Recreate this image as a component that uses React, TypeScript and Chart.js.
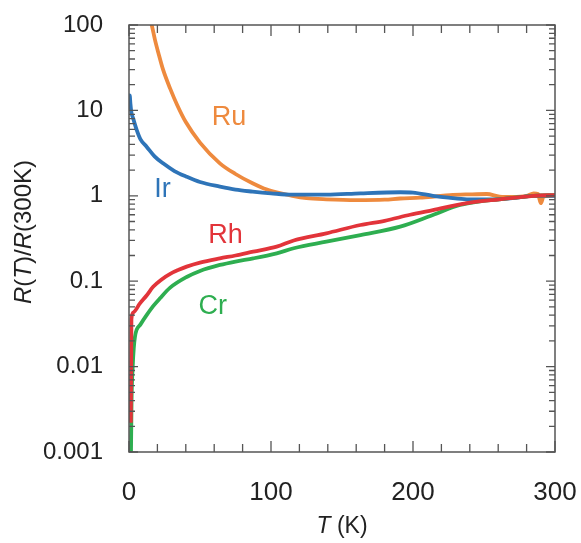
import { useEffect, useRef } from "react";
import { Chart, registerables } from "chart.js";

Chart.register(...registerables);

// Temperature (K) and normalized resistance R(T)/R(300K) for each metal
const ruT = [15, 16, 18.3, 20.7, 24, 29, 34, 40, 50, 64, 75, 87, 95, 104, 115, 125, 139, 160, 180, 191, 205, 215, 226, 240, 252, 261, 270, 280, 285, 288, 290, 292, 296, 300];
const ruR = [115, 100, 67, 47, 30, 18, 11.5, 7.3, 4.2, 2.4, 1.8, 1.4, 1.22, 1.1, 1.0, 0.94, 0.91, 0.89, 0.9, 0.93, 0.95, 0.98, 1.02, 1.04, 1.05, 0.98, 0.97, 1.0, 1.07, 1.05, 0.82, 0.98, 1.0, 1.0];

const irT = [0, 0.5, 1, 1.5, 2, 3, 4, 5.4, 8, 12.4, 18, 24, 32, 40.6, 50, 64, 75, 87, 100, 115, 139, 163, 191, 200, 214, 225, 238, 256, 270, 285, 300];
const irR = [14, 15, 12, 10, 9, 8, 7, 5.9, 4.6, 3.76, 2.9, 2.4, 1.95, 1.67, 1.45, 1.28, 1.18, 1.12, 1.07, 1.03, 1.03, 1.07, 1.1, 1.09, 1.0, 0.95, 0.91, 0.91, 0.94, 1.0, 1.0];

const rhT = [1.3, 1.5, 1.7, 3, 7.7, 12.4, 17, 23, 29, 35, 40.6, 50, 64, 75, 87.5, 104, 116, 139, 163, 180, 198, 214, 238, 261, 285, 300];
const rhR = [0.0022, 0.01, 0.036, 0.043, 0.055, 0.068, 0.086, 0.105, 0.122, 0.136, 0.148, 0.165, 0.185, 0.2, 0.222, 0.254, 0.3, 0.364, 0.455, 0.51, 0.6, 0.68, 0.82, 0.91, 1.0, 1.02];

const crT = [1.4, 1.6, 1.8, 2.6, 4.2, 8, 12.4, 17, 21.8, 29, 40.6, 50, 64, 75, 87.5, 104, 116, 139, 163, 191, 214, 233, 245, 261, 285, 300];
const crR = [0.001, 0.002, 0.004, 0.01, 0.0224, 0.031, 0.04, 0.051, 0.063, 0.084, 0.112, 0.132, 0.155, 0.17, 0.185, 0.212, 0.243, 0.29, 0.347, 0.435, 0.596, 0.78, 0.85, 0.91, 1.0, 1.02];

const seriesNames = ["Rh", "Cr", "Ir", "Ru"];
const seriesColors = ["#E2343A", "#2EAE50", "#2E74B8", "#EE8A3E"];

// Curve label anchors (data coordinates)
const labelText = ["Ru", "Ir", "Rh", "Cr"];
const labelT = [70.4, 23.6, 68, 59];
const labelR = [8.3, 1.17, 0.347, 0.05];
const labelColor = ["#EE8A3E", "#2E74B8", "#E2343A", "#2EAE50"];

const yMajor = [0.001, 0.01, 0.1, 1, 10, 100];
const yMajorLabels = ["0.001", "0.01", "0.1", "1", "10", "100"];
const xMajorStep = 100;
const xMinorStep = 20;

const FONT = '"Liberation Sans", Arial, Helvetica, sans-serif';

function pts(t: number[], r: number[]) {
  return t.map((x, i) => ({ x, y: r[i] }));
}

function drawSegments(ctx: CanvasRenderingContext2D, segs: [string, boolean][], size: number) {
  let total = 0;
  const widths = segs.map(([s, it]) => {
    ctx.font = `${it ? "italic " : ""}${size}px ${FONT}`;
    const w = ctx.measureText(s).width;
    total += w;
    return w;
  });
  let x = -total / 2;
  segs.forEach(([s, it], i) => {
    ctx.font = `${it ? "italic " : ""}${size}px ${FONT}`;
    ctx.fillText(s, x, 0);
    x += widths[i];
  });
}

export default function App() {
  const ref = useRef<HTMLCanvasElement>(null);

  useEffect(() => {
    document.body.style.margin = "0";
    const framePlugin = {
      id: "frame",
      afterDatasetsDraw(chart: any) {
        const { ctx, chartArea: a, scales } = chart;
        const xs = scales.x;
        const ys = scales.y;
        ctx.save();
        ctx.strokeStyle = "#555";
        ctx.lineWidth = 1.5;
        ctx.strokeRect(a.left, a.top, a.right - a.left, a.bottom - a.top);
        ctx.lineWidth = 1.3;
        ctx.beginPath();
        for (let v = 0; v <= 300; v += xMinorStep) {
          const px = xs.getPixelForValue(v);
          const len = v % xMajorStep === 0 ? 11 : 8;
          ctx.moveTo(px, a.bottom);
          ctx.lineTo(px, a.bottom - len);
          ctx.moveTo(px, a.top);
          ctx.lineTo(px, a.top + len);
        }
        for (let e = -3; e <= 2; e++) {
          for (let m = 1; m <= 9; m++) {
            const v = m * Math.pow(10, e);
            if (v > 100.0001) break;
            const py = ys.getPixelForValue(v);
            const len = m === 1 ? 9 : 6;
            ctx.moveTo(a.left, py);
            ctx.lineTo(a.left + len, py);
            ctx.moveTo(a.right, py);
            ctx.lineTo(a.right - len, py);
          }
        }
        ctx.stroke();

        ctx.textAlign = "center";
        ctx.textBaseline = "middle";
        ctx.font = `27px ${FONT}`;
        labelText.forEach((t, i) => {
          ctx.fillStyle = labelColor[i];
          ctx.fillText(t, xs.getPixelForValue(labelT[i]), ys.getPixelForValue(labelR[i]));
        });

        ctx.fillStyle = "#222";
        ctx.textAlign = "left";
        ctx.save();
        ctx.translate(24, 232);
        ctx.rotate(-Math.PI / 2);
        drawSegments(ctx, [["R", true], ["(", false], ["T", true], [")/", false], ["R", true], ["(300K)", false]], 24);
        ctx.restore();
        ctx.save();
        ctx.translate((a.left + a.right) / 2, 527);
        drawSegments(ctx, [["T", true], [" (K)", false]], 23);
        ctx.restore();
        ctx.restore();
      },
    };

    const ds = [pts(rhT, rhR), pts(crT, crR), pts(irT, irR), pts(ruT, ruR)];
    const chart = new Chart(ref.current as HTMLCanvasElement, {
      type: "line",
      data: {
        datasets: ds.map((d, i) => ({
          label: seriesNames[i],
          data: d,
          borderColor: seriesColors[i],
          backgroundColor: seriesColors[i],
          borderWidth: 3.8,
          pointRadius: 0,
          cubicInterpolationMode: "monotone" as const,
          fill: false,
          order: i,
        })),
      },
      options: {
        animation: false,
        responsive: false,
        layout: { padding: { top: 25, right: 26, left: 0, bottom: 0 } },
        plugins: { legend: { display: false }, tooltip: { enabled: false } },
        scales: {
          x: {
            type: "linear",
            min: 0,
            max: 300,
            grid: { display: false, drawTicks: false },
            border: { display: false },
            ticks: {
              stepSize: xMajorStep,
              color: "#222",
              font: { size: 26, family: FONT },
              padding: 25,
              maxRotation: 0,
            },
            afterFit: (s: any) => {
              s.height = 91;
              s.paddingLeft = 0;
              s.paddingRight = 0;
              s.paddingTop = 0;
              s.paddingBottom = 0;
            },
          },
          y: {
            type: "logarithmic",
            min: 0.001,
            max: 100,
            grid: { display: false, drawTicks: false },
            border: { display: false },
            afterBuildTicks: (s: any) => {
              s.ticks = yMajor.map((v) => ({ value: v }));
            },
            ticks: {
              autoSkip: false,
              color: "#222",
              font: { size: 24, family: FONT },
              padding: 26,
              callback: (v: any) => {
                const i = yMajor.findIndex((m) => Math.abs(m - Number(v)) < m * 1e-6);
                return i >= 0 ? yMajorLabels[i] : "";
              },
            },
            afterFit: (s: any) => {
              s.width = 129;
              s.paddingLeft = 0;
              s.paddingRight = 0;
              s.paddingTop = 0;
              s.paddingBottom = 0;
            },
          },
        },
      },
      plugins: [framePlugin],
    });
    return () => chart.destroy();
  }, []);

  return <canvas ref={ref} width={581} height={543} style={{ display: "block" }} />;
}
